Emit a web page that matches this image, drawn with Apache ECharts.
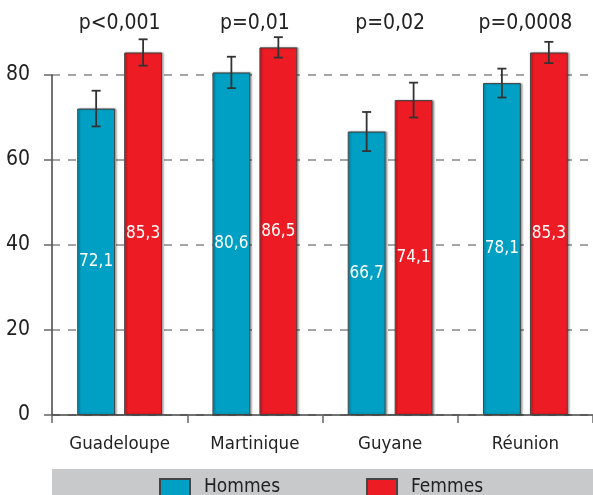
<!DOCTYPE html>
<html>
<head>
<meta charset="utf-8">
<script src="https://cdn.jsdelivr.net/npm/echarts@6/dist/echarts.min.js"></script>
<style>
  html, body { margin: 0; padding: 0; background: #fff; }
  #chart { width: 593px; height: 495px; }
</style>
</head>
<body>
<div id="chart"></div>
<script>
var categories = ['Guadeloupe', 'Martinique', 'Guyane', 'Réunion'];
var hommes = [72.1, 80.6, 66.7, 78.1];
var femmes = [85.3, 86.5, 74.1, 85.3];
// demi-largeur des intervalles de confiance
var hommesErr = [4.2, 3.7, 4.6, 3.4];
var femmesErr = [3.1, 2.4, 4.1, 2.5];
var pValues = ['p<0,001', 'p=0,01', 'p=0,02', 'p=0,0008'];
var yTicks = [0, 20, 40, 60, 80];

var FONT = "'DejaVu Sans Condensed', 'Liberation Sans', sans-serif";
var BAR_W = 0.28;      // part de la bande
var BAR_GAP = 0.24;    // part de la barre

var myChart = echarts.init(document.getElementById('chart'));

function fmt(v) { return String(v).replace('.', ','); }

// barres d'erreur : side 0 = hommes (gauche), 1 = femmes (droite)
function errorItem(side, values, errs) {
  return function (params, api) {
    var i = api.value(0);
    var v = values[i], e = errs[i];
    var band = api.size([1, 0])[0];
    var off = band * (BAR_W + BAR_W * BAR_GAP) / 2 * (side === 0 ? -1 : 1);
    var top = api.coord([i, v + e]);
    var bot = api.coord([i, v - e]);
    var x = top[0] + off;
    var cap = 4.5;
    var style = { stroke: '#333', lineWidth: 1.8 };
    return {
      type: 'group',
      children: [
        { type: 'line', shape: { x1: x, y1: top[1], x2: x, y2: bot[1] }, style: style },
        { type: 'line', shape: { x1: x - cap, y1: top[1], x2: x + cap, y2: top[1] }, style: style },
        { type: 'line', shape: { x1: x - cap, y1: bot[1], x2: x + cap, y2: bot[1] }, style: style }
      ]
    };
  };
}

var option = {
  animation: false,
  textStyle: { fontFamily: FONT },
  grid: { left: 52, right: 0, top: 75, bottom: 80 },
  graphic: [{
    type: 'rect',
    shape: { x: 52, y: 469, width: 541, height: 26 },
    style: { fill: '#c8c9cb' },
    z: -1
  }],
  legend: {
    left: 159,
    top: 478,
    padding: 0,
    itemWidth: 30,
    itemHeight: 17,
    itemGap: 86,
    icon: 'rect',
    textStyle: { fontSize: 19, color: '#222', fontFamily: FONT, padding: [0, 0, 0, 9] },
    data: ['Hommes', 'Femmes']
  },
  xAxis: {
    type: 'category',
    data: categories,
    axisLine: { lineStyle: { color: '#444', width: 1.5 } },
    axisTick: { show: true, length: 8, lineStyle: { color: '#666', width: 1.5 } },
    axisLabel: { fontSize: 18.5, color: '#222', margin: 20, fontFamily: FONT }
  },
  yAxis: {
    type: 'value',
    min: 0,
    max: 80,
    interval: 20,
    axisLine: { show: true, lineStyle: { color: '#444', width: 1.5 } },
    axisTick: { show: true, length: 8, lineStyle: { color: '#666', width: 1.5 } },
    axisLabel: { fontSize: 21, color: '#222', margin: 22, fontFamily: FONT,
      formatter: function (v) { return yTicks.indexOf(v) >= 0 ? v : ''; } },
    splitLine: { show: true, lineStyle: { color: '#888', width: 1.5, type: [8, 8] } }
  },
  series: [
    {
      name: 'Hommes',
      type: 'bar',
      data: hommes,
      barWidth: (BAR_W * 100) + '%',
      barGap: (BAR_GAP * 100) + '%',
      clip: false,
      itemStyle: { color: '#00a0c4', borderColor: '#444', borderWidth: 1,
        shadowColor: 'rgba(0,0,0,0.35)', shadowOffsetX: 1.5, shadowOffsetY: 0, shadowBlur: 2 },
      label: { show: true, position: 'inside', color: '#fff', fontSize: 17, fontFamily: FONT,
        formatter: function (p) { return fmt(p.value); } }
    },
    {
      name: 'Femmes',
      type: 'bar',
      data: femmes,
      barWidth: (BAR_W * 100) + '%',
      clip: false,
      itemStyle: { color: '#ed1c24', borderColor: '#444', borderWidth: 1,
        shadowColor: 'rgba(0,0,0,0.35)', shadowOffsetX: 1.5, shadowOffsetY: 0, shadowBlur: 2 },
      label: { show: true, position: 'inside', color: '#fff', fontSize: 17, fontFamily: FONT,
        formatter: function (p) { return fmt(p.value); } }
    },
    {
      type: 'custom',
      renderItem: errorItem(0, hommes, hommesErr),
      data: categories.map(function (c, i) { return [i]; }),
      clip: false,
      z: 5,
      silent: true
    },
    {
      type: 'custom',
      renderItem: errorItem(1, femmes, femmesErr),
      data: categories.map(function (c, i) { return [i]; }),
      clip: false,
      z: 5,
      silent: true
    },
    {
      // p-values au-dessus des groupes
      type: 'custom',
      renderItem: function (params, api) {
        var i = api.value(0);
        var pt = api.coord([i, 92.2]);
        return {
          type: 'text',
          style: { text: pValues[i], x: pt[0], y: pt[1], align: 'center', verticalAlign: 'middle',
            fontSize: 21, fill: '#222', fontFamily: FONT }
        };
      },
      data: categories.map(function (c, i) { return [i]; }),
      clip: false,
      silent: true
    }
  ]
};

myChart.setOption(option);
window.addEventListener('resize', function () {
  myChart.resize();
});
</script>
</body>
</html>
